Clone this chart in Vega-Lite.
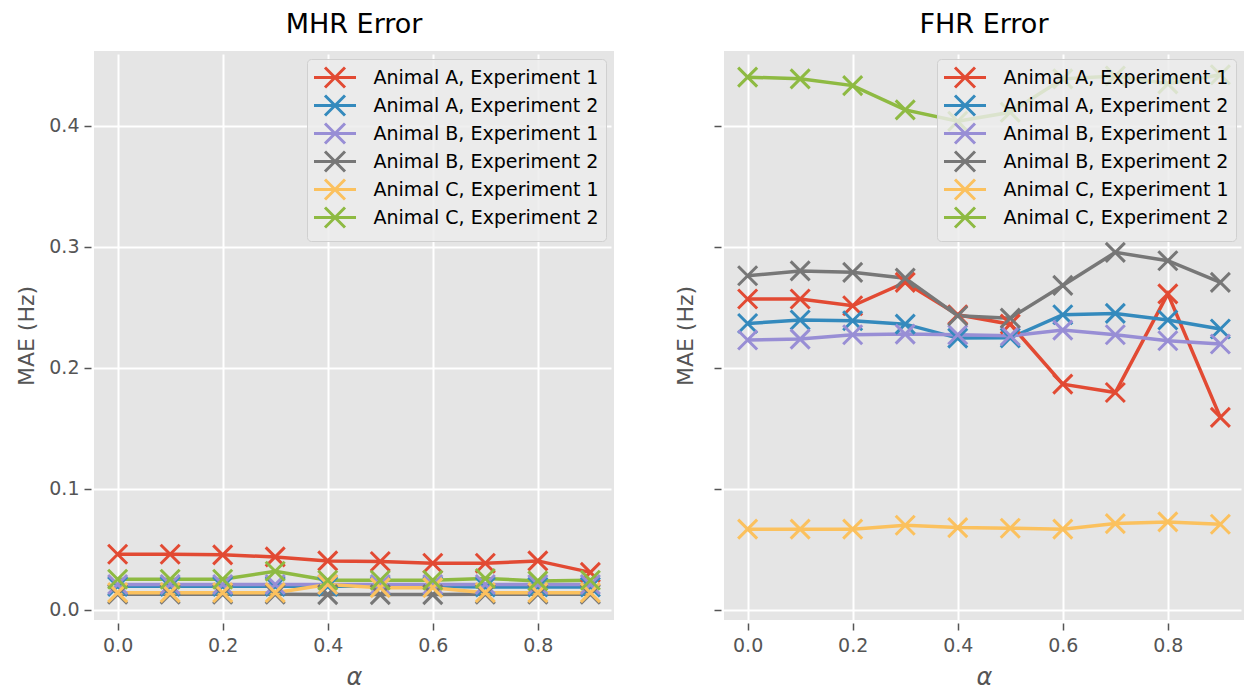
{
  "$schema": "https://vega.github.io/schema/vega-lite/v6.json",
  "padding": {"left": 15, "top": 11, "right": 8, "bottom": 5},
  "background": "white",
  "spacing": 60,
  "config": {
    "font": "DejaVu Sans",
    "view": {"fill": "#E5E5E5", "stroke": null},
    "title": {"fontSize": 27, "fontWeight": "normal", "color": "#000000", "font": "DejaVu Sans", "offset": 12},
    "axis": {
      "labelFont": "DejaVu Sans", "labelFontSize": 19, "labelColor": "#555555",
      "titleFont": "DejaVu Sans", "titleFontSize": 22, "titleColor": "#555555", "titleFontWeight": "normal",
      "tickColor": "#555555", "tickSize": 7, "tickWidth": 1.5, "domain": false,
      "gridColor": "#FFFFFF", "gridWidth": 2, "offset": 3, "labelPadding": 6
    },
    "axisX": {"titleFontStyle": "italic", "titleFontSize": 24, "titlePadding": 10},
    "axisY": {"titlePadding": 10, "labelPadding": 5},
    "legend": {
      "orient": "top-right", "offset": 8, "padding": 7,
      "fillColor": "rgba(236,236,236,0.82)", "strokeColor": "#D0D0D0", "cornerRadius": 4,
      "labelFont": "DejaVu Sans", "labelFontSize": 19, "labelColor": "#000000", "labelLimit": 400,
      "symbolType": "M-2.1,0L2.1,0M-1,-1L1,1M-1,1L1,-1", "symbolSize": 400, "symbolStrokeWidth": 3,
      "symbolFillColor": "transparent", "symbolOffset": 9.5, "labelOffset": 27, "rowPadding": -5
    }
  },
  "data": {"values": [
    {"p":"MHR","s":"Animal A, Experiment 1","a":0.0,"v":0.046},
    {"p":"MHR","s":"Animal A, Experiment 1","a":0.1,"v":0.046},
    {"p":"MHR","s":"Animal A, Experiment 1","a":0.2,"v":0.0455},
    {"p":"MHR","s":"Animal A, Experiment 1","a":0.3,"v":0.0438},
    {"p":"MHR","s":"Animal A, Experiment 1","a":0.4,"v":0.0405},
    {"p":"MHR","s":"Animal A, Experiment 1","a":0.5,"v":0.040},
    {"p":"MHR","s":"Animal A, Experiment 1","a":0.6,"v":0.0386},
    {"p":"MHR","s":"Animal A, Experiment 1","a":0.7,"v":0.0386},
    {"p":"MHR","s":"Animal A, Experiment 1","a":0.8,"v":0.0405},
    {"p":"MHR","s":"Animal A, Experiment 1","a":0.9,"v":0.031},
    {"p":"MHR","s":"Animal A, Experiment 2","a":0.0,"v":0.0195},
    {"p":"MHR","s":"Animal A, Experiment 2","a":0.1,"v":0.0195},
    {"p":"MHR","s":"Animal A, Experiment 2","a":0.2,"v":0.0195},
    {"p":"MHR","s":"Animal A, Experiment 2","a":0.3,"v":0.0195},
    {"p":"MHR","s":"Animal A, Experiment 2","a":0.4,"v":0.0195},
    {"p":"MHR","s":"Animal A, Experiment 2","a":0.5,"v":0.0195},
    {"p":"MHR","s":"Animal A, Experiment 2","a":0.6,"v":0.0195},
    {"p":"MHR","s":"Animal A, Experiment 2","a":0.7,"v":0.019},
    {"p":"MHR","s":"Animal A, Experiment 2","a":0.8,"v":0.019},
    {"p":"MHR","s":"Animal A, Experiment 2","a":0.9,"v":0.019},
    {"p":"MHR","s":"Animal B, Experiment 1","a":0.0,"v":0.021},
    {"p":"MHR","s":"Animal B, Experiment 1","a":0.1,"v":0.021},
    {"p":"MHR","s":"Animal B, Experiment 1","a":0.2,"v":0.021},
    {"p":"MHR","s":"Animal B, Experiment 1","a":0.3,"v":0.021},
    {"p":"MHR","s":"Animal B, Experiment 1","a":0.4,"v":0.021},
    {"p":"MHR","s":"Animal B, Experiment 1","a":0.5,"v":0.021},
    {"p":"MHR","s":"Animal B, Experiment 1","a":0.6,"v":0.021},
    {"p":"MHR","s":"Animal B, Experiment 1","a":0.7,"v":0.021},
    {"p":"MHR","s":"Animal B, Experiment 1","a":0.8,"v":0.021},
    {"p":"MHR","s":"Animal B, Experiment 1","a":0.9,"v":0.021},
    {"p":"MHR","s":"Animal B, Experiment 2","a":0.0,"v":0.013},
    {"p":"MHR","s":"Animal B, Experiment 2","a":0.1,"v":0.013},
    {"p":"MHR","s":"Animal B, Experiment 2","a":0.2,"v":0.013},
    {"p":"MHR","s":"Animal B, Experiment 2","a":0.3,"v":0.013},
    {"p":"MHR","s":"Animal B, Experiment 2","a":0.4,"v":0.0127},
    {"p":"MHR","s":"Animal B, Experiment 2","a":0.5,"v":0.0127},
    {"p":"MHR","s":"Animal B, Experiment 2","a":0.6,"v":0.0127},
    {"p":"MHR","s":"Animal B, Experiment 2","a":0.7,"v":0.013},
    {"p":"MHR","s":"Animal B, Experiment 2","a":0.8,"v":0.013},
    {"p":"MHR","s":"Animal B, Experiment 2","a":0.9,"v":0.013},
    {"p":"MHR","s":"Animal C, Experiment 1","a":0.0,"v":0.0143},
    {"p":"MHR","s":"Animal C, Experiment 1","a":0.1,"v":0.0143},
    {"p":"MHR","s":"Animal C, Experiment 1","a":0.2,"v":0.0143},
    {"p":"MHR","s":"Animal C, Experiment 1","a":0.3,"v":0.0143},
    {"p":"MHR","s":"Animal C, Experiment 1","a":0.4,"v":0.021},
    {"p":"MHR","s":"Animal C, Experiment 1","a":0.5,"v":0.0184},
    {"p":"MHR","s":"Animal C, Experiment 1","a":0.6,"v":0.0184},
    {"p":"MHR","s":"Animal C, Experiment 1","a":0.7,"v":0.0143},
    {"p":"MHR","s":"Animal C, Experiment 1","a":0.8,"v":0.0143},
    {"p":"MHR","s":"Animal C, Experiment 1","a":0.9,"v":0.0143},
    {"p":"MHR","s":"Animal C, Experiment 2","a":0.0,"v":0.0253},
    {"p":"MHR","s":"Animal C, Experiment 2","a":0.1,"v":0.0253},
    {"p":"MHR","s":"Animal C, Experiment 2","a":0.2,"v":0.0253},
    {"p":"MHR","s":"Animal C, Experiment 2","a":0.3,"v":0.032},
    {"p":"MHR","s":"Animal C, Experiment 2","a":0.4,"v":0.0245},
    {"p":"MHR","s":"Animal C, Experiment 2","a":0.5,"v":0.0245},
    {"p":"MHR","s":"Animal C, Experiment 2","a":0.6,"v":0.0245},
    {"p":"MHR","s":"Animal C, Experiment 2","a":0.7,"v":0.026},
    {"p":"MHR","s":"Animal C, Experiment 2","a":0.8,"v":0.024},
    {"p":"MHR","s":"Animal C, Experiment 2","a":0.9,"v":0.0245},
    {"p":"FHR","s":"Animal A, Experiment 1","a":0.0,"v":0.2568},
    {"p":"FHR","s":"Animal A, Experiment 1","a":0.1,"v":0.2568},
    {"p":"FHR","s":"Animal A, Experiment 1","a":0.2,"v":0.2512},
    {"p":"FHR","s":"Animal A, Experiment 1","a":0.3,"v":0.2705},
    {"p":"FHR","s":"Animal A, Experiment 1","a":0.4,"v":0.2438},
    {"p":"FHR","s":"Animal A, Experiment 1","a":0.5,"v":0.236},
    {"p":"FHR","s":"Animal A, Experiment 1","a":0.6,"v":0.1865},
    {"p":"FHR","s":"Animal A, Experiment 1","a":0.7,"v":0.1796},
    {"p":"FHR","s":"Animal A, Experiment 1","a":0.8,"v":0.261},
    {"p":"FHR","s":"Animal A, Experiment 1","a":0.9,"v":0.159},
    {"p":"FHR","s":"Animal A, Experiment 2","a":0.0,"v":0.2366},
    {"p":"FHR","s":"Animal A, Experiment 2","a":0.1,"v":0.2394},
    {"p":"FHR","s":"Animal A, Experiment 2","a":0.2,"v":0.2388},
    {"p":"FHR","s":"Animal A, Experiment 2","a":0.3,"v":0.236},
    {"p":"FHR","s":"Animal A, Experiment 2","a":0.4,"v":0.2245},
    {"p":"FHR","s":"Animal A, Experiment 2","a":0.5,"v":0.2247},
    {"p":"FHR","s":"Animal A, Experiment 2","a":0.6,"v":0.2438},
    {"p":"FHR","s":"Animal A, Experiment 2","a":0.7,"v":0.2449},
    {"p":"FHR","s":"Animal A, Experiment 2","a":0.8,"v":0.2394},
    {"p":"FHR","s":"Animal A, Experiment 2","a":0.9,"v":0.232},
    {"p":"FHR","s":"Animal B, Experiment 1","a":0.0,"v":0.2229},
    {"p":"FHR","s":"Animal B, Experiment 1","a":0.1,"v":0.2237},
    {"p":"FHR","s":"Animal B, Experiment 1","a":0.2,"v":0.2273},
    {"p":"FHR","s":"Animal B, Experiment 1","a":0.3,"v":0.2278},
    {"p":"FHR","s":"Animal B, Experiment 1","a":0.4,"v":0.2273},
    {"p":"FHR","s":"Animal B, Experiment 1","a":0.5,"v":0.2264},
    {"p":"FHR","s":"Animal B, Experiment 1","a":0.6,"v":0.2311},
    {"p":"FHR","s":"Animal B, Experiment 1","a":0.7,"v":0.2273},
    {"p":"FHR","s":"Animal B, Experiment 1","a":0.8,"v":0.2223},
    {"p":"FHR","s":"Animal B, Experiment 1","a":0.9,"v":0.2196},
    {"p":"FHR","s":"Animal B, Experiment 2","a":0.0,"v":0.276},
    {"p":"FHR","s":"Animal B, Experiment 2","a":0.1,"v":0.280},
    {"p":"FHR","s":"Animal B, Experiment 2","a":0.2,"v":0.2788},
    {"p":"FHR","s":"Animal B, Experiment 2","a":0.3,"v":0.274},
    {"p":"FHR","s":"Animal B, Experiment 2","a":0.4,"v":0.243},
    {"p":"FHR","s":"Animal B, Experiment 2","a":0.5,"v":0.241},
    {"p":"FHR","s":"Animal B, Experiment 2","a":0.6,"v":0.268},
    {"p":"FHR","s":"Animal B, Experiment 2","a":0.7,"v":0.2953},
    {"p":"FHR","s":"Animal B, Experiment 2","a":0.8,"v":0.2884},
    {"p":"FHR","s":"Animal B, Experiment 2","a":0.9,"v":0.2705},
    {"p":"FHR","s":"Animal C, Experiment 1","a":0.0,"v":0.0667},
    {"p":"FHR","s":"Animal C, Experiment 1","a":0.1,"v":0.0667},
    {"p":"FHR","s":"Animal C, Experiment 1","a":0.2,"v":0.0667},
    {"p":"FHR","s":"Animal C, Experiment 1","a":0.3,"v":0.070},
    {"p":"FHR","s":"Animal C, Experiment 1","a":0.4,"v":0.068},
    {"p":"FHR","s":"Animal C, Experiment 1","a":0.5,"v":0.0675},
    {"p":"FHR","s":"Animal C, Experiment 1","a":0.6,"v":0.0667},
    {"p":"FHR","s":"Animal C, Experiment 1","a":0.7,"v":0.0713},
    {"p":"FHR","s":"Animal C, Experiment 1","a":0.8,"v":0.0727},
    {"p":"FHR","s":"Animal C, Experiment 1","a":0.9,"v":0.0708},
    {"p":"FHR","s":"Animal C, Experiment 2","a":0.0,"v":0.440},
    {"p":"FHR","s":"Animal C, Experiment 2","a":0.1,"v":0.4386},
    {"p":"FHR","s":"Animal C, Experiment 2","a":0.2,"v":0.433},
    {"p":"FHR","s":"Animal C, Experiment 2","a":0.3,"v":0.413},
    {"p":"FHR","s":"Animal C, Experiment 2","a":0.4,"v":0.4036},
    {"p":"FHR","s":"Animal C, Experiment 2","a":0.5,"v":0.411},
    {"p":"FHR","s":"Animal C, Experiment 2","a":0.6,"v":0.4386},
    {"p":"FHR","s":"Animal C, Experiment 2","a":0.7,"v":0.441},
    {"p":"FHR","s":"Animal C, Experiment 2","a":0.8,"v":0.4345},
    {"p":"FHR","s":"Animal C, Experiment 2","a":0.9,"v":0.442}
  ]},
  "hconcat": [
    {
      "width": 520, "height": 569,
      "title": {"text": "MHR Error"},
      "transform": [{"filter": "datum.p == 'MHR'"}],
      "encoding": {
        "x": {"field": "a", "type": "quantitative", "scale": {"domain": [-0.045, 0.945], "nice": false, "zero": false},
              "axis": {"title": "α", "values": [0, 0.2, 0.4, 0.6, 0.8], "format": ".1f"}},
        "y": {"field": "v", "type": "quantitative", "scale": {"domain": [-0.0083, 0.4616], "nice": false, "zero": false},
              "axis": {"title": "MAE (Hz)", "values": [0, 0.1, 0.2, 0.3, 0.4], "format": ".1f"}},
        "color": {"field": "s", "type": "nominal",
                  "scale": {"domain": ["Animal A, Experiment 1", "Animal A, Experiment 2", "Animal B, Experiment 1", "Animal B, Experiment 2", "Animal C, Experiment 1", "Animal C, Experiment 2"],
                            "range": ["#E24A33", "#348ABD", "#988ED5", "#777777", "#FBC15E", "#8EBA42"]},
                  "legend": {"title": null}}
      },
      "layer": [
        {"mark": {"type": "line", "strokeWidth": 3.5}},
        {"mark": {"type": "point", "shape": "M-1,-1L1,1M-1,1L1,-1", "filled": false, "size": 361, "strokeWidth": 3, "opacity": 1}}
      ]
    },
    {
      "width": 520, "height": 569,
      "title": {"text": "FHR Error"},
      "transform": [{"filter": "datum.p == 'FHR'"}],
      "encoding": {
        "x": {"field": "a", "type": "quantitative", "scale": {"domain": [-0.045, 0.945], "nice": false, "zero": false},
              "axis": {"title": "α", "values": [0, 0.2, 0.4, 0.6, 0.8], "format": ".1f"}},
        "y": {"field": "v", "type": "quantitative", "scale": {"domain": [-0.0083, 0.4616], "nice": false, "zero": false},
              "axis": {"title": "MAE (Hz)", "values": [0, 0.1, 0.2, 0.3, 0.4], "labels": false, "titlePadding": 16}},
        "color": {"field": "s", "type": "nominal",
                  "scale": {"domain": ["Animal A, Experiment 1", "Animal A, Experiment 2", "Animal B, Experiment 1", "Animal B, Experiment 2", "Animal C, Experiment 1", "Animal C, Experiment 2"],
                            "range": ["#E24A33", "#348ABD", "#988ED5", "#777777", "#FBC15E", "#8EBA42"]},
                  "legend": {"title": null}}
      },
      "layer": [
        {"mark": {"type": "line", "strokeWidth": 3.5}},
        {"mark": {"type": "point", "shape": "M-1,-1L1,1M-1,1L1,-1", "filled": false, "size": 361, "strokeWidth": 3, "opacity": 1}}
      ]
    }
  ],
  "resolve": {"scale": {"color": "independent"}, "legend": {"color": "independent"}}
}
